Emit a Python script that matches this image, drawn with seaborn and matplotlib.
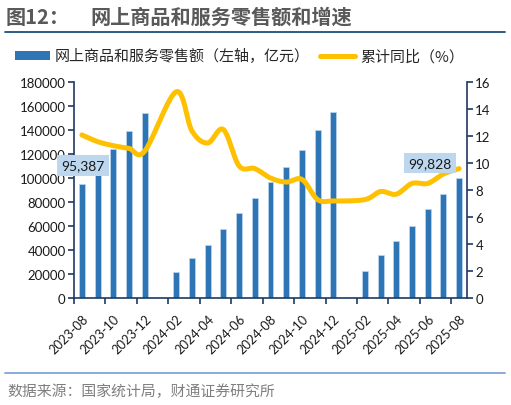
import numpy as np
import pandas as pd
import matplotlib
matplotlib.use("Agg")
import matplotlib.pyplot as plt
import seaborn as sns
from matplotlib.lines import Line2D
from matplotlib.patches import Patch
from matplotlib.ticker import FixedLocator, FuncFormatter

# 数据
months = [
    "2023-08", "2023-09", "2023-10", "2023-11", "2023-12",
    "2024-01", "2024-02", "2024-03", "2024-04", "2024-05",
    "2024-06", "2024-07", "2024-08", "2024-09", "2024-10",
    "2024-11", "2024-12", "2025-01", "2025-02", "2025-03",
    "2025-04", "2025-05", "2025-06", "2025-07", "2025-08",
]
sales = [
    95387, 108983, 124052, 139582, 154264,
    np.nan, 21493, 33015, 43927, 57251,
    70812, 83500, 96529, 108928, 123745,
    140200, 155225, np.nan, 22811, 35779,
    47200, 60300, 74100, 86600, 99828,
]
growth = [
    12.1, 11.6, 11.3, 11.1, 10.9,
    np.nan, 15.3, 12.4, 11.5, 12.5,
    9.8, 9.6, 8.9, 8.6, 8.8,
    7.3, 7.2, np.nan, 7.3, 7.9,
    7.7, 8.5, 8.5, 9.2, 9.6,
]
labelled = {"2023-08": 95387, "2025-08": 99828}

BAR_COLOR = "#2E75B6"
LINE_COLOR = "#FFC000"
AXIS_COLOR = "#203864"
CJK = ["Noto Sans CJK SC", "DejaVu Sans"]
NUM = ["Lato", "DejaVu Sans"]


def smooth_curve(xs, ys, n=24):
    # 类似 Excel 平滑线的三次贝塞尔
    pts = np.column_stack([xs, ys]).astype(float)
    out = []
    for i in range(len(pts) - 1):
        p0 = pts[i - 1] if i > 0 else pts[i]
        p1, p2 = pts[i], pts[i + 1]
        p3 = pts[i + 2] if i + 2 < len(pts) else pts[i + 1]
        c1 = p1 + (p2 - p0) / 6
        c2 = p2 - (p3 - p1) / 6
        t = np.linspace(0, 1, n)[:, None]
        seg = (1 - t) ** 3 * p1 + 3 * (1 - t) ** 2 * t * c1 + 3 * (1 - t) * t ** 2 * c2 + t ** 3 * p2
        out.append(seg if i == 0 else seg[1:])
    return np.vstack(out)


sns.set_theme(style="white")
plt.rcParams["font.family"] = CJK
plt.rcParams["axes.unicode_minus"] = False

df = pd.DataFrame({"month": months, "sales": sales, "growth": growth})
pos = np.arange(len(months))

fig = plt.figure(figsize=(5.11, 4.06), dpi=100)
ax = fig.add_axes([0.1448, 0.2635, 0.7691, 0.5313])

# 柱状图：网上零售额
sns.barplot(
    data=df.dropna(subset=["sales"]), x="month", y="sales", order=months,
    color=BAR_COLOR, saturation=1, width=0.38, errorbar=None,
    edgecolor="#BDD7EE", linewidth=0.5, ax=ax,
)
ax.set_xlim(-0.5, len(months) - 0.5)
ax.set_ylim(0, 180000)
ax.set_yticks(np.arange(0, 180001, 20000))
ax.yaxis.set_major_formatter(FuncFormatter(lambda v, p: f"{int(v)}"))
ax.set_xlabel("")
ax.set_ylabel("")

# 折线：累计同比
ax2 = ax.twinx()
valid = ~np.isnan(np.array(growth))
curve = smooth_curve(pos[valid], np.array(growth)[valid])
sns.lineplot(x=curve[:, 0], y=curve[:, 1], sort=False, color=LINE_COLOR,
             linewidth=3.6, ax=ax2)
ax2.lines[0].set_solid_capstyle("round")
ax2.set_ylim(0, 16)
ax2.set_yticks(np.arange(0, 17, 2))
ax2.set_xlim(-0.5, len(months) - 0.5)

# 坐标轴样式
for a in (ax, ax2):
    a.spines["top"].set_visible(False)
    for side in ("left", "right", "bottom"):
        a.spines[side].set_color(AXIS_COLOR)
        a.spines[side].set_linewidth(1.2)
ax.spines["right"].set_visible(False)
ax2.spines["left"].set_visible(False)
ax2.spines["bottom"].set_visible(False)

ax.tick_params(axis="y", direction="out", length=4, width=1.2, color=AXIS_COLOR,
               pad=2, labelsize=9.5, labelcolor="#1a1a1a", left=True)
ax2.tick_params(axis="y", direction="out", length=4, width=1.2, color=AXIS_COLOR,
                pad=2, labelsize=9.5, labelcolor="#1a1a1a", right=True)

ax.xaxis.set_major_locator(FixedLocator(pos[::2]))
ax.set_xticklabels(months[::2])
ax.xaxis.set_minor_locator(FixedLocator(np.arange(-0.5, len(months), 2)))
ax.tick_params(axis="x", which="major", length=0, pad=10, labelsize=9.2,
               labelcolor="#1a1a1a", bottom=True)
ax.tick_params(axis="x", which="minor", direction="out", length=4, width=1.2,
               color=AXIS_COLOR, bottom=True)
for lab in ax.get_xticklabels():
    lab.set_rotation(45)
    lab.set_ha("right")
    lab.set_va("top")
    lab.set_rotation_mode("anchor")
    lab.set_fontfamily(NUM)
for lab in ax.get_yticklabels() + ax2.get_yticklabels():
    lab.set_fontfamily(NUM)

# 数据标签
offsets = {"2023-08": (1, 13), "2025-08": (-21, 11)}
for m, v in labelled.items():
    dx, dy = offsets[m]
    ax2.annotate(
        f"{v:,}", xy=(months.index(m), v), xycoords=ax.transData,
        xytext=(dx, dy), textcoords="offset points", ha="center", va="center",
        fontsize=10, color="#1a1a1a", family=NUM, zorder=6,
        bbox=dict(boxstyle="square,pad=0.3", fc="#BDD7EE", ec="none"),
    )

# 图例
handles = [
    Patch(facecolor=BAR_COLOR, edgecolor="none"),
    Line2D([], [], color=LINE_COLOR, linewidth=3.6, solid_capstyle="round"),
]
fig.legend(
    handles, ["网上商品和服务零售额（左轴，亿元）", "累计同比（%）"],
    loc="center left", bbox_to_anchor=(15 / 511, 1 - 57 / 406), ncol=2,
    frameon=False, fontsize=10.8, handlelength=2.3, handleheight=0.55,
    handletextpad=0.35, columnspacing=0.7, borderpad=0, borderaxespad=0,
    labelcolor="#262626",
)

# 标题与来源
fig.text(6 / 511, 1 - 17 / 406, "图12：", fontsize=14.5, fontweight="bold",
         color="#595959", va="center")
fig.text(90 / 511, 1 - 17 / 406, "网上商品和服务零售额和增速", fontsize=14.5,
         fontweight="bold", color="#595959", va="center")
fig.add_artist(Line2D([5 / 511, 505 / 511], [1 - 33 / 406] * 2,
                      color="#1F4E79", linewidth=1.3))
fig.add_artist(Line2D([5 / 511, 505 / 511], [1 - 373.5 / 406] * 2,
                      color="#7EA6D6", linewidth=1.3))
fig.text(7 / 511, 1 - 392 / 406, "数据来源：国家统计局，财通证券研究所",
         fontsize=10.7, color="#7F7F7F", va="center")

fig.savefig("out.png", dpi=100)
